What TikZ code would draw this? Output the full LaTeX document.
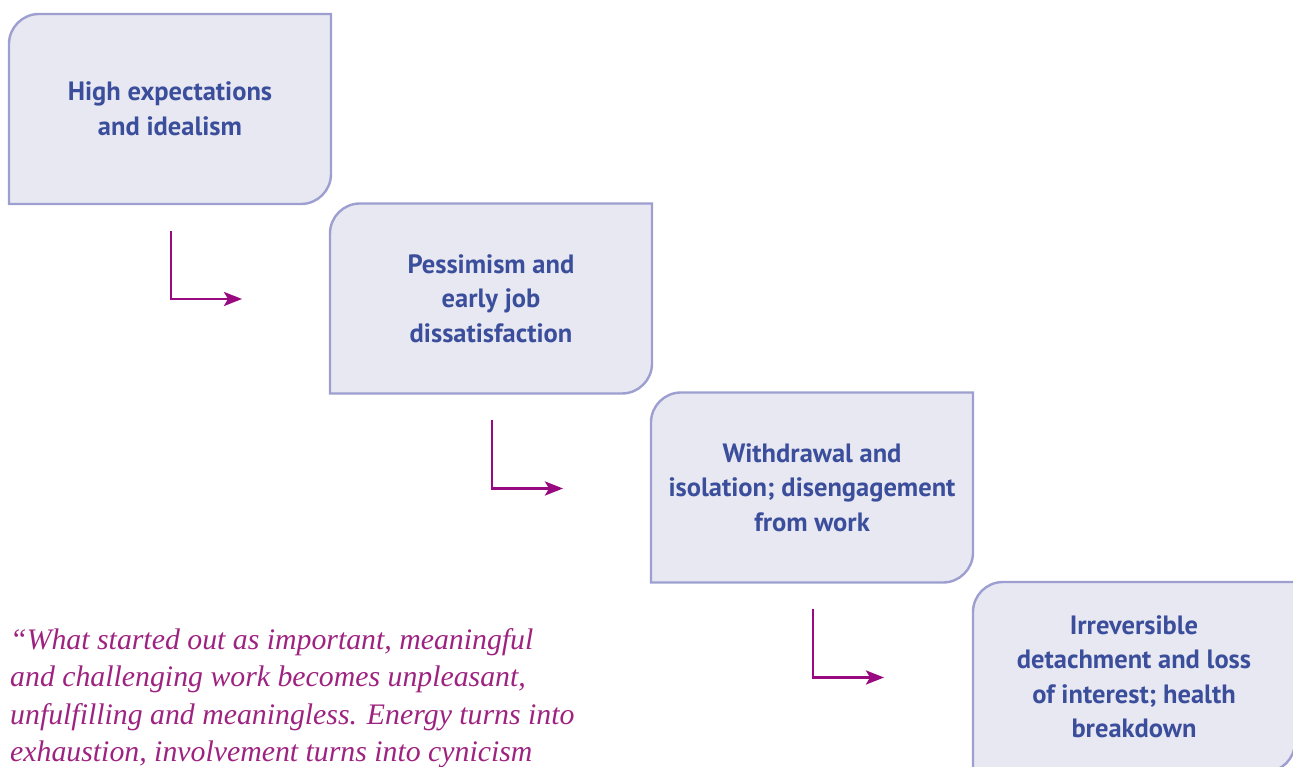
\documentclass[tikz,border=0pt]{standalone}
\usepackage{fontspec}
\setmainfont{Liberation Serif}
\newfontfamily\boxfont{PT Sans}
\usetikzlibrary{arrows.meta,backgrounds}
\definecolor{boxfill}{HTML}{E8E8F2}
\definecolor{boxline}{HTML}{9C9FCF}
\definecolor{boxtext}{HTML}{3B4E9B}
\definecolor{flowcol}{HTML}{990A80}
\definecolor{quotecol}{HTML}{9E2380}
\tikzset{
  stepbox/.style={minimum width=322pt, minimum height=190pt, inner sep=0pt, outer sep=0pt,
    align=center, text=boxtext, font=\boxfont\bfseries\fontsize{26.5}{34.5}\selectfont},
  boxshape/.style={draw=boxline, fill=boxfill, line width=2.4pt},
  flow/.style={draw=flowcol, line width=2.8pt, -{Stealth[length=18pt,width=14pt,inset=4pt]}},
  quote/.style={text=quotecol, align=left, inner sep=0pt, anchor=north west,
    font=\itshape\fontsize{29.8}{37.5}\selectfont}
}
\newcommand{\stepshape}[1]{%
  \draw[boxshape] (#1.south west) -- ([yshift=-30pt]#1.north west)
    arc[start angle=180,end angle=90,radius=30pt] -- (#1.north east)
    -- ([yshift=30pt]#1.south east)
    arc[start angle=0,end angle=-90,radius=30pt] -- cycle;}
\begin{document}
\begin{tikzpicture}[x=1pt,y=1pt]
\useasboundingbox (0,0) rectangle (1293,766);
\node[stepbox] (b1) at (170,657) {High expectations\\and idealism};
\node[stepbox] (b2) at (491,467.5) {Pessimism and\\early job\\dissatisfaction};
\node[stepbox] (b3) at (812,278.5) {Withdrawal and\\isolation; disengagement\\from work};
\node[stepbox] (b4) at (1134,89) {Irreversible\\detachment and loss\\of interest; health\\breakdown};
\begin{scope}[on background layer]
  \stepshape{b1}
  \stepshape{b2}
  \stepshape{b3}
  \stepshape{b4}
\end{scope}
\foreach \i in {1,2,3}{
  \coordinate (a\i s) at ([shift={(1pt,-27pt)}]b\i.south);
  \coordinate (a\i e) at ([shift={(72pt,-95pt)}]b\i.south);
  \draw[flow] (a\i s) |- (a\i e);
}
\node[quote] (q) at (10,138) {“What started out as important, meaningful\\and challenging work becomes unpleasant,\\unfulfilling and meaningless. Energy turns into\\exhaustion, involvement turns into cynicism};
\end{tikzpicture}
\end{document}
